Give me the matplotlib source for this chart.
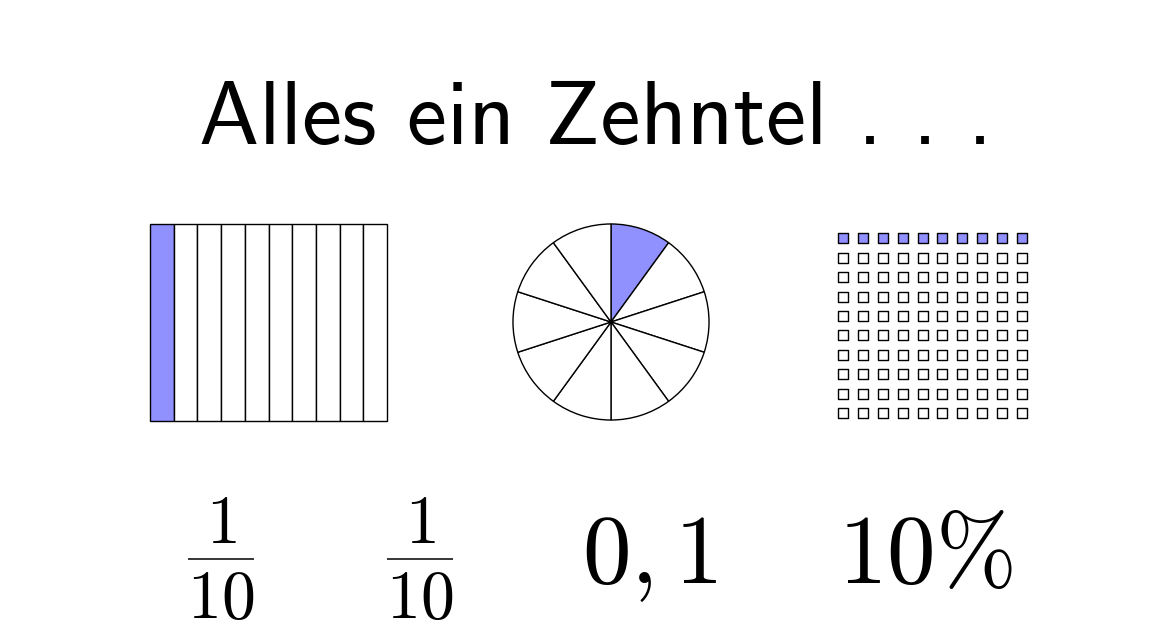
import matplotlib
matplotlib.use("Agg")
import matplotlib.pyplot as plt
import numpy as np

plt.rcParams['mathtext.fontset'] = 'cm'

# ---- data ----
title_text = "Alles ein Zehntel . . ."
n_parts = 10
shaded_parts = 1
grid_rows = 10
grid_cols = 10
shaded_rows = 1
frac_num = ["1", "1"]
frac_den = ["10", "10"]
decimal_label = r"$0,1$"
percent_label = r"$10\%$"

fill = "#9090ff"
W, H = 1169, 630
fig = plt.figure(figsize=(W / 100, H / 100), dpi=100)

def box(x0, y0, x1, y1):
    return [x0 / W, 1 - y1 / H, (x1 - x0) / W, (y1 - y0) / H]

# canvas axes for text
cax = fig.add_axes([0, 0, 1, 1])
cax.set_xlim(0, W)
cax.set_ylim(H, 0)
cax.axis('off')

cax.text(596, 144, title_text, family='cmss10', fontsize=65, ha='center', va='baseline')

# bars
bax = fig.add_axes(box(150, 224, 387, 421))
idx = np.arange(n_parts)
colors = [fill if i < shaded_parts else 'white' for i in idx]
bax.bar(idx, np.ones(n_parts), width=1, align='edge', color=colors,
        edgecolor='black', linewidth=1.0, clip_on=False)
bax.set_xlim(0, n_parts)
bax.set_ylim(0, 1)
bax.axis('off')

# pie
pax = fig.add_axes(box(512, 223, 710, 421))
pcolors = [fill if i < shaded_parts else 'white' for i in idx]
pax.pie(np.ones(n_parts), colors=pcolors, startangle=90, counterclock=False,
        wedgeprops=dict(edgecolor='black', linewidth=1.0), radius=1)
pax.set_xlim(-1.01, 1.01)
pax.set_ylim(-1.01, 1.01)
pax.set_aspect('equal')
pax.axis('off')

# grid of squares
gax = fig.add_axes(box(833, 228.5, 1032, 423))
gx, gy = np.meshgrid(np.arange(grid_cols), np.arange(grid_rows))
gx = gx.ravel(); gy = gy.ravel()
gcolors = [fill if r < shaded_rows else 'white' for r in gy]
gax.scatter(gx, gy, marker='s', s=52, c=gcolors, edgecolors='black', linewidths=1.0)
gax.set_xlim(-0.5, grid_cols - 0.5)
gax.set_ylim(grid_rows - 0.5, -0.5)
gax.axis('off')

# fractions
for xc, num, den in zip([221, 420], frac_num, frac_den):
    cax.text(xc, 543, f"${num}$", fontsize=49, ha='center', va='baseline')
    cax.text(xc, 618, f"${den}$", fontsize=49, ha='center', va='baseline')
    cax.plot([xc - 33, xc + 33], [559, 559], color='black', lw=1.1,
             solid_capstyle='butt')

cax.text(650, 583, decimal_label, fontsize=70, ha='center', va='baseline')
cax.text(925, 583, percent_label, fontsize=70, ha='center', va='baseline')

fig.savefig("out.png", dpi=100, facecolor='white')
